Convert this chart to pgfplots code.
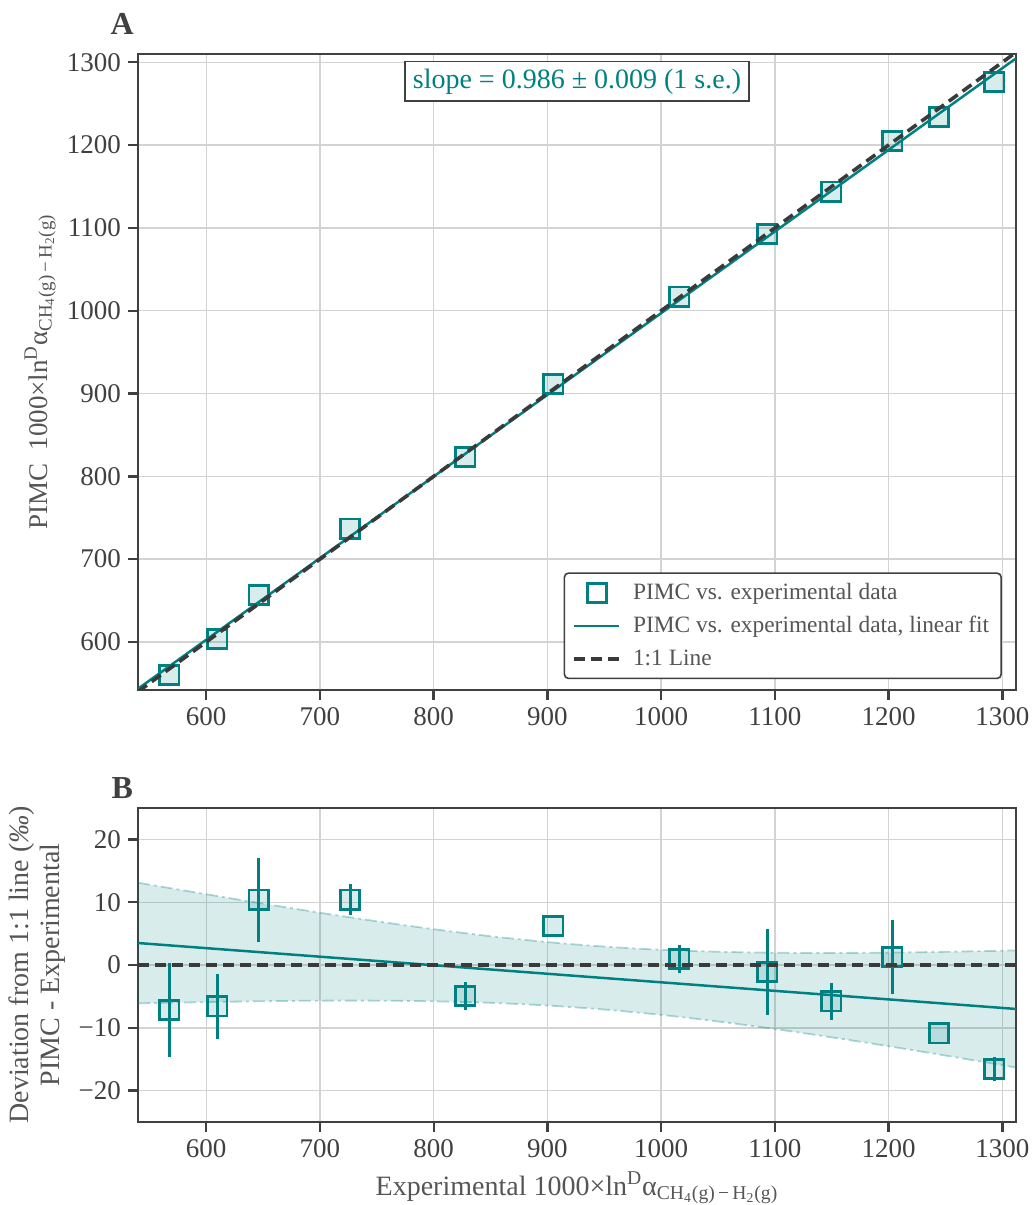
\documentclass[border=0pt]{standalone}
\usepackage{fontspec}
\setmainfont{Liberation Serif}
\usepackage{pgfplots}
\usepackage{pgfplotstable}
\pgfplotsset{compat=1.18}
\usepgfplotslibrary{fillbetween}
\definecolor{tealc}{RGB}{0,128,128}
\definecolor{axgray}{RGB}{64,64,64}
\definecolor{dashgray}{RGB}{58,58,58}
\definecolor{gridgray}{RGB}{211,211,211}
\definecolor{txtgray}{RGB}{85,85,85}

\pgfplotstableread{
x y
567.6 560.4
609.9 603.3
646.0 656.4
726.6 737.0
827.8 823.0
905.2 911.4
1016.0 1017.0
1093.4 1092.3
1149.7 1143.9
1203.3 1204.6
1244.5 1233.6
1293.0 1276.4
}\toptable

\pgfplotstableread{
x y e
567.6 -7.2 7.5
609.9 -6.6 5.2
646.0 10.4 6.7
726.6 10.4 2.5
827.8 -4.9 2.2
905.2 6.2 0
1016.0 1.0 2.2
1093.4 -1.1 6.9
1149.7 -5.8 3.0
1203.3 1.3 5.9
1244.5 -10.9 0
1293.0 -16.6 1.9
}\devtable

\pgfplotstableread{
x up lo
540 13.10 -6.10
600 11.27 -5.91
650 9.77 -5.77
700 8.32 -5.68
750 6.96 -5.68
800 5.70 -5.78
850 4.58 -6.02
900 3.65 -6.45
950 2.93 -7.09
1000 2.42 -7.94
1050 2.11 -8.99
1100 1.95 -10.19
1150 1.92 -11.52
1200 1.97 -12.93
1250 2.10 -14.42
1312 2.32 -16.32
}\bandtable

\pgfplotsset{
  myaxis/.style={
    scale only axis, width=439pt,
    xmin=540, xmax=1312,
    xtick={600,700,...,1300},
    axis line style={axgray, line width=1.2pt},
    tick style={axgray, line width=1.2pt},
    major tick length=5pt,
    tick align=outside,
    xtick pos=left, ytick pos=left,
    grid=major,
    major grid style={gridgray, line width=0.7pt},
    ticklabel style={font=\fontsize{13.5}{15}\selectfont, text=axgray},
    /pgf/number format/assume math mode=true,
    /pgf/number format/1000 sep={},
    label style={font=\fontsize{14}{16}\selectfont, text=txtgray},
    clip mode=individual,
  },
  mkstyle/.style={only marks, mark=square*, mark size=4.8pt,
    mark options={draw=tealc, fill=tealc, fill opacity=0.15, line width=1.4pt}},
}

\begin{document}
\begin{tikzpicture}

% ---------- Panel A ----------
\begin{axis}[myaxis,
  at={(0pt,216pt)}, anchor=south west,
  height=318pt,
  ymin=542, ymax=1310,
  ytick={600,700,...,1300},
  ylabel={PIMC\ \ 1000×ln\textsuperscript{D}α\textsubscript{CH\textsubscript{4}(g)\,−\,H\textsubscript{2}(g)}},
  ylabel style={at={(axis description cs:-0.1116,0.5)}, anchor=center, font=\fontsize{13.5}{16}\selectfont},
  legend cell align=left,
  legend style={at={(axis description cs:0.984,0.017)}, anchor=south east,
    draw=axgray, line width=0.8pt, rounded corners=2pt, fill=white,
    font=\fontsize{11.7}{13.5}\selectfont, text=txtgray, row sep=3pt, column sep=4pt,
    inner xsep=4pt, inner ysep=3pt},
  legend image code/.code={\draw[mark repeat=2,mark phase=2,#1] plot coordinates {(0pt,0pt) (11.25pt,0pt) (22.5pt,0pt)};},
]
\addlegendimage{only marks, mark=square, mark size=4.8pt, mark options={draw=tealc, line width=1.4pt}}
\addlegendentry{PIMC vs. experimental data}
\addplot[mkstyle, forget plot] table[x=x, y=y] {\toptable};
\addplot[tealc, line width=1.25pt] coordinates {(540,543.5) (1312,1304.7)};
\addlegendentry{PIMC vs. experimental data, linear fit}
\addplot[dashgray, line width=1.8pt, dash pattern=on 5.5pt off 3pt] coordinates {(540,540) (1312,1312)};
\addlegendentry{1:1 Line}
\node[draw=axgray, line width=0.8pt, fill=white, text=tealc,
  font=\fontsize{14}{16}\selectfont, inner xsep=4pt, inner ysep=3.5pt]
  at (axis description cs:0.5,0.957) {slope = 0.986 ± 0.009 (1 s.e.)};
\node[font=\bfseries\fontsize{16}{18}\selectfont, text=axgray]
  at (axis description cs:-0.018,1.048) {A};
\end{axis}

% ---------- Panel B ----------
\begin{axis}[myaxis,
  at={(0pt,0pt)}, anchor=south west,
  height=157pt,
  ymin=-25, ymax=25,
  ytick={-20,-10,0,10,20},
  yticklabels={−20,−10,0,10,20},
  xlabel={Experimental 1000×ln\textsuperscript{D}α\textsubscript{CH\textsubscript{4}(g)\,−\,H\textsubscript{2}(g)}},
  xlabel style={at={(axis description cs:0.5,-0.21)}, anchor=center},
  ylabel={Deviation from 1:1 line (\textit{‰})\\PIMC - Experimental},
  ylabel style={at={(axis description cs:-0.115,0.5)}, anchor=center, align=center,
    font=\fontsize{14}{15.5}\selectfont},
]
\addplot[name path=up, tealc, draw opacity=0.3, line width=0.9pt,
  dash pattern=on 6pt off 2pt on 1.5pt off 2pt, smooth] table[x=x, y=up] {\bandtable};
\addplot[name path=lo, tealc, draw opacity=0.3, line width=0.9pt,
  dash pattern=on 6pt off 2pt on 1.5pt off 2pt, smooth] table[x=x, y=lo] {\bandtable};
\addplot[fill=tealc, fill opacity=0.15, draw=none] fill between[of=up and lo];
\addplot[mkstyle,
  error bars/.cd, y dir=both, y explicit,
  error bar style={tealc, line width=1.35pt, opacity=1}, error mark=none]
  table[x=x, y=y, y error=e] {\devtable};
\addplot[tealc, line width=1.25pt] coordinates {(540,3.5) (1312,-7.0)};
\addplot[dashgray, line width=1.8pt, dash pattern=on 5.5pt off 3pt] coordinates {(540,0) (1312,0)};
\node[font=\bfseries\fontsize{16}{18}\selectfont, text=axgray]
  at (axis description cs:-0.018,1.062) {B};
\end{axis}

\pgfresetboundingbox
\path[use as bounding box] (-69pt,-41.5pt) rectangle (448pt,561pt);
\end{tikzpicture}
\end{document}
